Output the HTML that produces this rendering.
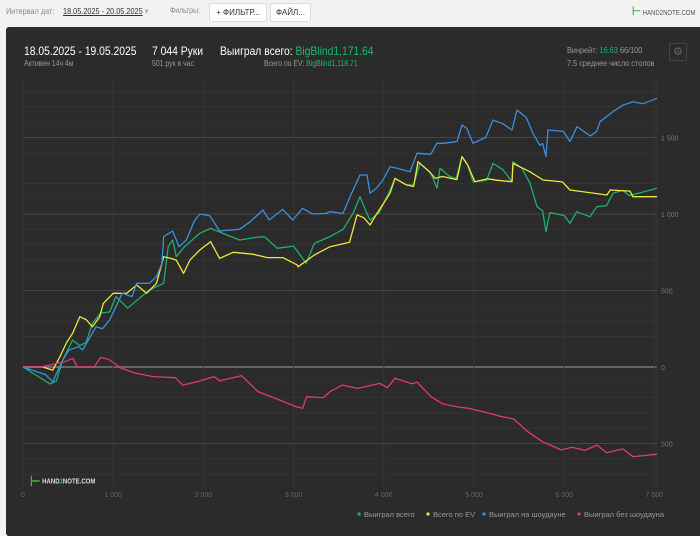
<!DOCTYPE html>
<html><head><meta charset="utf-8">
<style>
body{margin:0;width:700px;height:536px;background:#f2f2f2;font-family:"Liberation Sans",sans-serif;position:relative;overflow:hidden}
.t{position:absolute;white-space:nowrap;transform:scaleX(0.86);transform-origin:left top}
.btn{position:absolute;top:3px;height:17px;background:#fff;border:1px solid #ddd;border-radius:2px;font-size:8px;color:#333;line-height:17px;text-align:center}
#panel{position:absolute;left:6px;top:27px;width:700px;height:509px;background:#2b2b2b;border-radius:3px}
</style></head><body>
<div class="t" style="left:6px;top:6px;font-size:8.5px;color:#888">Интервал дат:</div>
<div class="t" style="left:63px;top:6px;font-size:8.5px;color:#333"><span style="text-decoration:underline">18.05.2025 - 20.05.2025</span> <span style="color:#aaa">▾</span></div>
<div class="t" style="left:170px;top:6px;font-size:8px;color:#888">Фильтры:</div>
<div class="btn" style="left:209px;width:56px">+ ФИЛЬТР...</div>
<div class="btn" style="left:270px;width:39px">ФАЙЛ...</div>
<div class="t" style="left:632px;top:4px;font-size:7px;color:#555"><span style="color:#3bb54a;font-weight:bold;font-size:12px">⊢</span> HAND2NOTE.COM</div>
<div id="panel"></div>
<div class="t" style="left:24px;top:44px;font-size:12px;color:#fff">18.05.2025 - 19.05.2025</div>
<div class="t" style="left:24px;top:59px;font-size:8px;color:#999">Активен 14ч 4м</div>
<div class="t" style="left:152px;top:44px;font-size:12px;color:#fff">7 044 Руки</div>
<div class="t" style="left:152px;top:59px;font-size:8px;color:#999">501 рук в час</div>
<div class="t" style="left:220px;top:44px;font-size:12px;color:#fff">Выиграл всего: <span style="color:#1fb86a">BigBlind1,171.64</span></div>
<div class="t" style="left:264px;top:59px;font-size:8px;color:#999">Всего по EV: <span style="color:#1fb86a">BigBlind1,118.71</span></div>
<div class="t" style="left:567px;top:45px;font-size:8.5px;color:#999">Винрейт: <span style="color:#1fb86a">16.63</span> 66/100</div>
<div class="t" style="left:567px;top:58px;font-size:8.5px;color:#999">7.5 среднее число столов</div>
<div style="position:absolute;left:669px;top:43px;width:16px;height:16px;border:1px solid #444;border-radius:2px;color:#666;font-size:11px;text-align:center;line-height:16px">⚙</div>
<svg id="chart" width="700" height="536" style="position:absolute;left:0;top:0"></svg>
<div class="t" style="left:30px;top:473px;font-size:7px;color:#ddd;font-weight:bold"><span style="color:#3bb54a;font-size:14px;vertical-align:middle">⊢</span> HAND<span style="color:#3bb54a">2</span>NOTE.COM</div>
<script>
const hands={
 green:[0,300,370,440,550,630,700,770,860,960,1030,1100,1160,1400,1560,1610,1660,1700,1790,1960,2080,2400,2620,2680,2820,3000,3140,3230,3404,3550,3659,3736,3800,3847,3950,4069,4124,4250,4330,4401,4520,4590,4623,4720,4800,4867,4930,4989,5140,5211,5320,5421,5432,5530,5621,5699,5760,5798,5840,6000,6064,6140,6286,6360,6470,6541,6650,6720,6870,7029],
 yellow:[0,110,220,330,410,480,550,630,700,770,850,890,1000,1150,1260,1370,1480,1560,1640,1700,1780,1850,1960,2080,2180,2330,2550,2710,2880,3040,3050,3230,3404,3620,3703,3780,3847,3920,4069,4124,4250,4330,4379,4500,4570,4650,4810,4867,4930,5010,5150,5260,5421,5432,5621,5765,5980,6064,6280,6474,6510,6730,6760,7029],
 blue:[0,250,330,440,510,620,660,810,880,960,1030,1100,1210,1260,1400,1480,1540,1560,1660,1730,1810,1900,1960,2070,2180,2400,2520,2660,2730,2880,2990,3100,3210,3360,3404,3548,3625,3736,3814,3847,3920,3991,4069,4140,4290,4368,4520,4590,4660,4811,4867,4920,4989,5130,5211,5320,5421,5477,5580,5654,5730,5760,5798,5820,5990,6064,6142,6290,6360,6397,6541,6652,6763,6870,7029],
 red:[0,200,463,555,600,790,860,950,1092,1253,1330,1441,1690,1770,1940,2118,2180,2423,2605,2840,3027,3100,3145,3330,3404,3542,3710,3958,4040,4124,4310,4370,4523,4650,4830,4941,5150,5311,5440,5595,5759,5966,6090,6230,6364,6470,6650,6763,7029]
};
const values={
 green:[0,-111,-90,46,176,140,160,287,352,360,460,420,385,503,547,786,830,721,786,874,906,830,850,850,776,790,678,808,852,900,1004,1113,1020,961,1010,1157,1233,1190,1190,1331,1270,1168,1299,1250,1230,1375,1320,1211,1220,1331,1290,1211,1342,1300,1201,1048,1020,884,1010,990,939,1015,982,1048,1055,1135,1155,1120,1143,1168],
 yellow:[0,0,0,-20,68,156,220,329,310,263,329,416,482,482,536,482,547,721,710,699,612,699,765,819,710,750,737,715,715,667,655,732,786,815,994,975,928,1000,1135,1233,1190,1180,1342,1280,1233,1245,1225,1375,1320,1211,1230,1220,1211,1331,1276,1222,1210,1157,1140,1124,1157,1150,1113,1113],
 blue:[0,-50,-96,46,111,133,111,263,250,307,394,482,460,547,547,590,678,852,889,786,830,955,1000,989,889,900,950,1026,961,1030,961,1037,1000,1004,1015,1004,1113,1255,1255,1135,1170,1222,1309,1300,1276,1397,1390,1462,1462,1473,1582,1560,1462,1500,1614,1590,1549,1680,1630,1527,1450,1460,1375,1549,1540,1473,1571,1510,1540,1603,1669,1712,1734,1720,1756],
 red:[0,0,35,57,0,0,63,50,-9,-41,-50,-63,-70,-118,-95,-63,-90,-57,-161,-215,-259,-270,-194,-200,-161,-118,-140,-107,-135,-74,-110,-100,-194,-240,-262,-270,-300,-325,-340,-423,-488,-542,-525,-545,-510,-560,-535,-586,-570,-590]
};
const seriesNames=['green','yellow','blue','red'];
const seriesColors=['#1db069','#f0e63c','#3b8fe0','#e03a6e'];
const xTicks=[0,1000,2000,3000,4000,5000,6000,7000];
const xTickLabels=['0','1 000','2 000','3 000','4 000','5 000','6 000','7 000'];
const yTicks=[1500,1000,500,0,-500];
const yTickLabels=['1 500','1 000','500','0','500'];
const legendLabels=['Выиграл всего','Всего по EV','Выиграл на шоудауне','Выиграл без шоудауна'];

const svg=document.getElementById('chart');
const NS='http://www.w3.org/2000/svg';
const L=23,R=657,T=77,B=486;
const xs=h=>23+h*0.0902;
const ys=v=>367-v*76.5/500;
function mk(tag,attrs){const e=document.createElementNS(NS,tag);for(const k in attrs)e.setAttribute(k,attrs[k]);svg.appendChild(e);return e;}
for(let v=-700;v<=1900;v+=100){
  if(ys(v)<T||ys(v)>B)continue;
  const major=v%500===0;
  const g=mk('line',{x1:L,x2:R,y1:ys(v),y2:ys(v),stroke:v===0?'#666':(major?'#474747':'#333'),'stroke-width':v===0?2:1});
  
  
}
xTicks.forEach((h,i)=>{
  const g=mk('line',{x1:xs(h),x2:xs(h),y1:T,y2:B,stroke:'#353535'});
  
  
  const t=mk('text',{x:xs(h),y:497,fill:'#666','font-size':7,'text-anchor':'middle','font-family':'Liberation Sans, sans-serif'});
  t.textContent=xTickLabels[i];
  
  
});
{const g=mk('line',{x1:R,x2:R,y1:T,y2:B,stroke:'#353535'});}
yTicks.forEach((v,i)=>{
  const t=mk('text',{x:661,y:ys(v)+3,fill:'#777','font-size':7,'font-family':'Liberation Sans, sans-serif'});
  t.textContent=yTickLabels[i];
  
  
});
seriesNames.forEach((s,si)=>{
  const hs=hands[s],vs=values[s];
  let d='';
  for(let i=0;i<hs.length;i++){d+=(i?'L':'M')+xs(hs[i]).toFixed(1)+','+ys(vs[i]).toFixed(1);}
  const p=mk('path',{d:d,fill:'none',stroke:seriesColors[si],'stroke-width':1.3,'stroke-linejoin':'round'});
  
  
});
const lx=[359,428,484,579];
legendLabels.forEach((lab,i)=>{
  const c=mk('circle',{cx:lx[i],cy:514,r:1.6,fill:seriesColors[i]});
  
  
  const t=mk('text',{x:lx[i]+5,y:517,fill:'#999','font-size':7.5,'font-family':'Liberation Sans, sans-serif'});
  t.textContent=lab;
  
  
});
</script>
</body></html>
